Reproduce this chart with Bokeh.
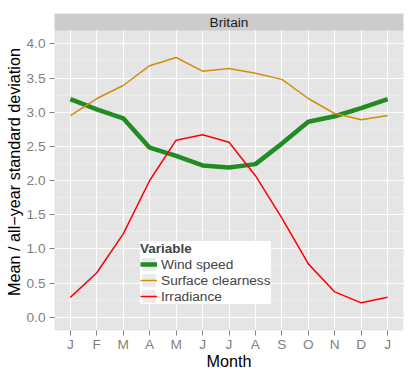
from bokeh.plotting import figure
from bokeh.models import (FixedTicker, Legend, LegendItem, BoxAnnotation, Label,
                          Range1d, PrintfTickFormatter)
from bokeh.embed import file_html
from bokeh.resources import INLINE

# ---- data ----
months = ["J", "F", "M", "A", "M", "J", "J", "A", "S", "O", "N", "D", "J"]
wind_speed = [3.19, 3.04, 2.91, 2.48, 2.36, 2.22, 2.19, 2.24, 2.54, 2.86, 2.94, 3.06, 3.19]
surface_clearness = [2.95, 3.20, 3.39, 3.68, 3.80, 3.60, 3.64, 3.57, 3.48, 3.20, 2.98, 2.89, 2.95]
irradiance = [0.29, 0.65, 1.22, 2.00, 2.59, 2.67, 2.56, 2.07, 1.45, 0.78, 0.37, 0.21, 0.29]
series_names = ["Wind speed", "Surface clearness", "Irradiance"]
y_ticks = [0.0, 0.5, 1.0, 1.5, 2.0, 2.5, 3.0, 3.5, 4.0]
y_minor = [0.25, 0.75, 1.25, 1.75, 2.25, 2.75, 3.25, 3.75]
facet_label = "Britain"
legend_title = "Variable"
x_title = "Month"
y_title = "Mean / all\u2212year standard deviation"

# ---- layout constants ----
FONT = "Liberation Sans"
Y_LO, PANEL_TOP, STRIP_TOP = -0.195, 4.195, 4.444
X_LO, X_HI = 0.4, 13.6

x = list(range(1, len(months) + 1))

p = figure(width=415, height=376,
           x_range=Range1d(X_LO, X_HI), y_range=Range1d(Y_LO, STRIP_TOP),
           output_backend="svg", toolbar_location=None,
           min_border_left=54, min_border_right=12, min_border_top=13, min_border_bottom=46)
p.background_fill_color = "#E5E5E5"
p.border_fill_color = "white"
p.outline_line_color = None

# axes
p.xaxis.ticker = FixedTicker(ticks=x)
p.xaxis.major_label_overrides = {i: m for i, m in zip(x, months)}
p.yaxis.ticker = FixedTicker(ticks=y_ticks, minor_ticks=y_minor)
p.yaxis.formatter = PrintfTickFormatter(format="%.1f")
p.xaxis.axis_label = x_title
p.yaxis.axis_label = y_title
for ax in (p.xaxis[0], p.yaxis[0]):
    ax.axis_line_color = None
    ax.major_tick_line_color = "#7F7F7F"
    ax.major_tick_line_width = 1
    ax.major_tick_out = 5
    ax.major_tick_in = 0
    ax.minor_tick_out = 0
    ax.minor_tick_in = 0
    ax.major_label_text_color = "#7F7F7F"
    ax.major_label_text_font = FONT
    ax.major_label_text_font_size = "13.7px"
    ax.axis_label_text_font = FONT
    ax.axis_label_text_font_size = "16.2px"
    ax.axis_label_text_font_style = "normal"
    ax.axis_label_text_color = "black"
    ax.axis_label_standoff = 0
p.xaxis.major_label_standoff = 1
p.xaxis.axis_label_standoff = -3
p.yaxis.major_label_standoff = 4

# grid
p.xgrid.grid_line_color = "white"
p.xgrid.grid_line_width = 1.1
p.ygrid.grid_line_color = "white"
p.ygrid.grid_line_width = 1.1
p.ygrid.minor_grid_line_color = "#F2F2F2"
p.ygrid.minor_grid_line_width = 0.6

# data lines
r_wind = p.line(x, wind_speed, line_color="#228B22", line_width=4.5)
r_surf = p.line(x, surface_clearness, line_color="#D18C0B", line_width=1.5)
r_irr = p.line(x, irradiance, line_color="#FF0000", line_width=1.5)

# legend key background (zero-size, only shows in legend)
key_bg = p.rect(x=x[:1], y=y_ticks[:1], width=0, height=0,
                fill_color="#EBEBEB", line_color=None)

# facet strip
p.add_layout(BoxAnnotation(bottom=PANEL_TOP, fill_color="#CCCCCC", fill_alpha=1,
                           line_color=None))
p.add_layout(Label(x=(X_LO + X_HI) / 2, y=(PANEL_TOP + STRIP_TOP) / 2, text=facet_label,
                   text_align="center", text_baseline="middle", text_font=FONT,
                   text_font_size="13.7px", text_color="#1A1A1A"))

legend = Legend(
    items=[LegendItem(label=n, renderers=[key_bg, r]) for n, r in
           zip(series_names, [r_wind, r_surf, r_irr])],
    location=(86, 26), title=legend_title,
    title_text_font=FONT, title_text_font_style="bold", title_text_font_size="13.5px",
    title_standoff=-2,
    label_text_font=FONT, label_text_font_size="13.7px",
    glyph_width=17, glyph_height=16, label_height=16, label_standoff=4,
    spacing=0, padding=7, margin=0,
    background_fill_color="white", background_fill_alpha=1, border_line_color=None)
p.add_layout(legend)

open("out.html", "w").write(file_html(p, INLINE))
